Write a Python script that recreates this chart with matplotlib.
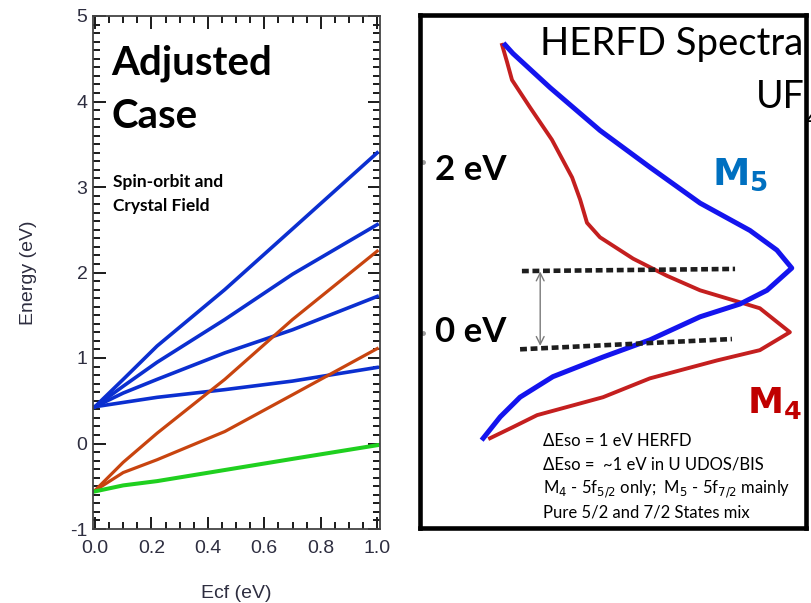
"""Adjusted case level diagram (spin-orbit + crystal field) next to UF4 HERFD spectra."""

import matplotlib

matplotlib.use("Agg")
import matplotlib.pyplot as plt
from matplotlib.ticker import MultipleLocator, FormatStrFormatter

W, H = 811, 603

plt.rcParams["font.family"] = ["Liberation Sans", "DejaVu Sans"]

# ---------- left panel data: level energies vs crystal-field strength ----------
ecf = [0.0, 0.10, 0.22, 0.46, 0.70, 1.0]
blue_levels = [
    [0.43, 0.75, 1.14, 1.80, 2.51, 3.40],
    [0.43, 0.67, 0.95, 1.45, 1.98, 2.56],
    [0.43, 0.59, 0.75, 1.06, 1.33, 1.72],
    [0.43, 0.48, 0.54, 0.63, 0.73, 0.89],
]
orange_levels = [
    [-0.55, -0.22, 0.12, 0.75, 1.45, 2.25],
    [-0.55, -0.34, -0.19, 0.14, 0.57, 1.11],
]
green_level = [-0.56, -0.49, -0.44, -0.31, -0.18, -0.02]

# ---------- right panel data: HERFD spectra (intensity, energy in eV) ----------
m5_int = [0.081, 0.106, 0.226, 0.387, 0.548, 0.710, 0.871, 0.958, 1.006,
          0.926, 0.839, 0.710, 0.548, 0.397, 0.235, 0.129, 0.065, 0.010]
m5_en = [3.37, 3.27, 2.87, 2.37, 1.94, 1.52, 1.20, 0.97, 0.76,
         0.50, 0.34, 0.19, -0.08, -0.28, -0.51, -0.75, -0.98, -1.23]
m4_int = [0.071, 0.087, 0.103, 0.161, 0.232, 0.297, 0.323, 0.345, 0.387, 0.494,
          0.603, 0.710, 0.839, 0.903, 1.000, 0.903, 0.765, 0.548, 0.397, 0.184,
          0.106, 0.032]
m4_en = [3.37, 3.17, 2.96, 2.64, 2.26, 1.82, 1.56, 1.29, 1.12, 0.87,
         0.67, 0.50, 0.36, 0.29, 0.01, -0.20, -0.32, -0.53, -0.75, -0.96,
         -1.10, -1.23]
dash_top_int, dash_top_en = [0.135, 0.823], [0.725, 0.75]
dash_bot_int, dash_bot_en = [0.129, 0.813], [-0.19, -0.07]
arrow_int, arrow_en = 0.194, [0.72, -0.15]
notes = [
    "ΔEso = 1 eV HERFD",
    "ΔEso =  ~1 eV in U UDOS/BIS",
    r"M$_4$ - 5f$_{5/2}$ only;  M$_5$ - 5f$_{7/2}$ mainly",
    "Pure 5/2 and 7/2 States mix",
]

CAL = ["Lato", "DejaVu Sans"]
TICK_C = "#2e2e40"


def fx(x):
    return x / W


def fy(y):
    return 1 - y / H


fig = plt.figure(figsize=(W / 100, H / 100), dpi=100)

# ---------- left panel ----------
ax = fig.add_axes([fx(93), fy(529), 287 / W, 513 / H])
for lv in blue_levels:
    ax.plot(ecf, lv, color="#0b2fd0", lw=2.6)
for lv in orange_levels:
    ax.plot(ecf, lv, color="#c8440f", lw=2.3)
ax.plot(ecf, green_level, color="#1fd01f", lw=2.9)

ax.set_xlim(-0.007, 1.01)
ax.set_ylim(-1, 5)
ax.xaxis.set_major_locator(MultipleLocator(0.2))
ax.xaxis.set_minor_locator(MultipleLocator(0.05))
ax.yaxis.set_major_locator(MultipleLocator(1))
ax.yaxis.set_minor_locator(MultipleLocator(0.1))
ax.xaxis.set_major_formatter(FormatStrFormatter("%.1f"))
ax.yaxis.set_major_formatter(FormatStrFormatter("%.0f"))
ax.tick_params(which="both", direction="in", top=True, right=True,
               color="#1a1a1a", width=1.4)
ax.tick_params(which="major", length=9, labelsize=14, labelcolor=TICK_C)
ax.tick_params(which="minor", length=5)
ax.tick_params(axis="x", which="major", pad=8)
ax.tick_params(axis="y", which="major", pad=4)
for sp in ax.spines.values():
    sp.set_color("#444444")
    sp.set_linewidth(1.3)
ax.set_xlabel("Ecf (eV)", fontsize=14, color=TICK_C, labelpad=20)
ax.set_ylabel("Energy (eV)", fontsize=14, color=TICK_C, labelpad=24)

ax.text(0.065, 0.885, "Adjusted", transform=ax.transAxes, family=CAL,
        weight="bold", fontsize=29, va="baseline")
ax.text(0.065, 0.782, "Case", transform=ax.transAxes, family=CAL,
        weight="bold", fontsize=29, va="baseline")
ax.text(0.068, 0.667, "Spin-orbit and", transform=ax.transAxes, family=CAL,
        weight="bold", fontsize=12.5, va="baseline")
ax.text(0.068, 0.620, "Crystal Field", transform=ax.transAxes, family=CAL,
        weight="bold", fontsize=12.5, va="baseline")

# ---------- right panel ----------
bx = fig.add_axes([fx(420), fy(528), 386 / W, 513 / H])
bx.set_xlim(-0.194, 1.052)
bx.set_ylim(-2.28, 3.72)
bx.set_xticks([])
bx.set_yticks([])
for sp in bx.spines.values():
    sp.set_color("black")
    sp.set_linewidth(3.3)

bx.plot(m4_int, m4_en, color="#c41f1f", lw=2.8, solid_joinstyle="round")
bx.plot(m5_int, m5_en, color="#1414ee", lw=3.6, solid_joinstyle="round")
bx.plot(dash_top_int, dash_top_en, color="#1e1e1e", lw=3.3,
        linestyle=(0, (1.5, 0.8)))
bx.plot(dash_bot_int, dash_bot_en, color="#1e1e1e", lw=3.3,
        linestyle=(0, (1.5, 0.8)))
bx.annotate("", xy=(arrow_int, arrow_en[0]), xytext=(arrow_int, arrow_en[1]),
            arrowprops=dict(arrowstyle="<->", color="#7a7a7a", lw=1.0,
                            shrinkA=0, shrinkB=0, mutation_scale=14))
bx.plot([-0.184, -0.184], [2.0, 0.0], ls="none", marker="o", ms=2.5,
        color="#9a9a9a")

fig.text(fx(803), fy(55), "HERFD Spectra", family=CAL, fontsize=27.5,
         ha="right", va="baseline")
fig.text(fx(805), fy(108), "UF", family=CAL, fontsize=27,
         ha="right", va="baseline")
fig.text(fx(806), fy(108), "4", family=CAL, fontsize=18, ha="left",
         va="top")
fig.text(fx(435), fy(180), "2 eV", family=CAL, weight="bold", fontsize=25,
         va="baseline")
fig.text(fx(435), fy(342), "0 eV", family=CAL, weight="bold", fontsize=25,
         va="baseline")
fig.text(fx(712), fy(185), r"$\mathbf{M_5}$", color="#0070c0", fontsize=27,
         va="baseline", family=CAL)
fig.text(fx(747), fy(413), r"$\mathbf{M_4}$", color="#c00000", fontsize=26,
         va="baseline", family=CAL)
for i, line in enumerate(notes):
    fig.text(fx(543), fy(446 + 24 * i), line, family=CAL, fontsize=12,
             va="baseline")

fig.savefig("out.png", dpi=100)
